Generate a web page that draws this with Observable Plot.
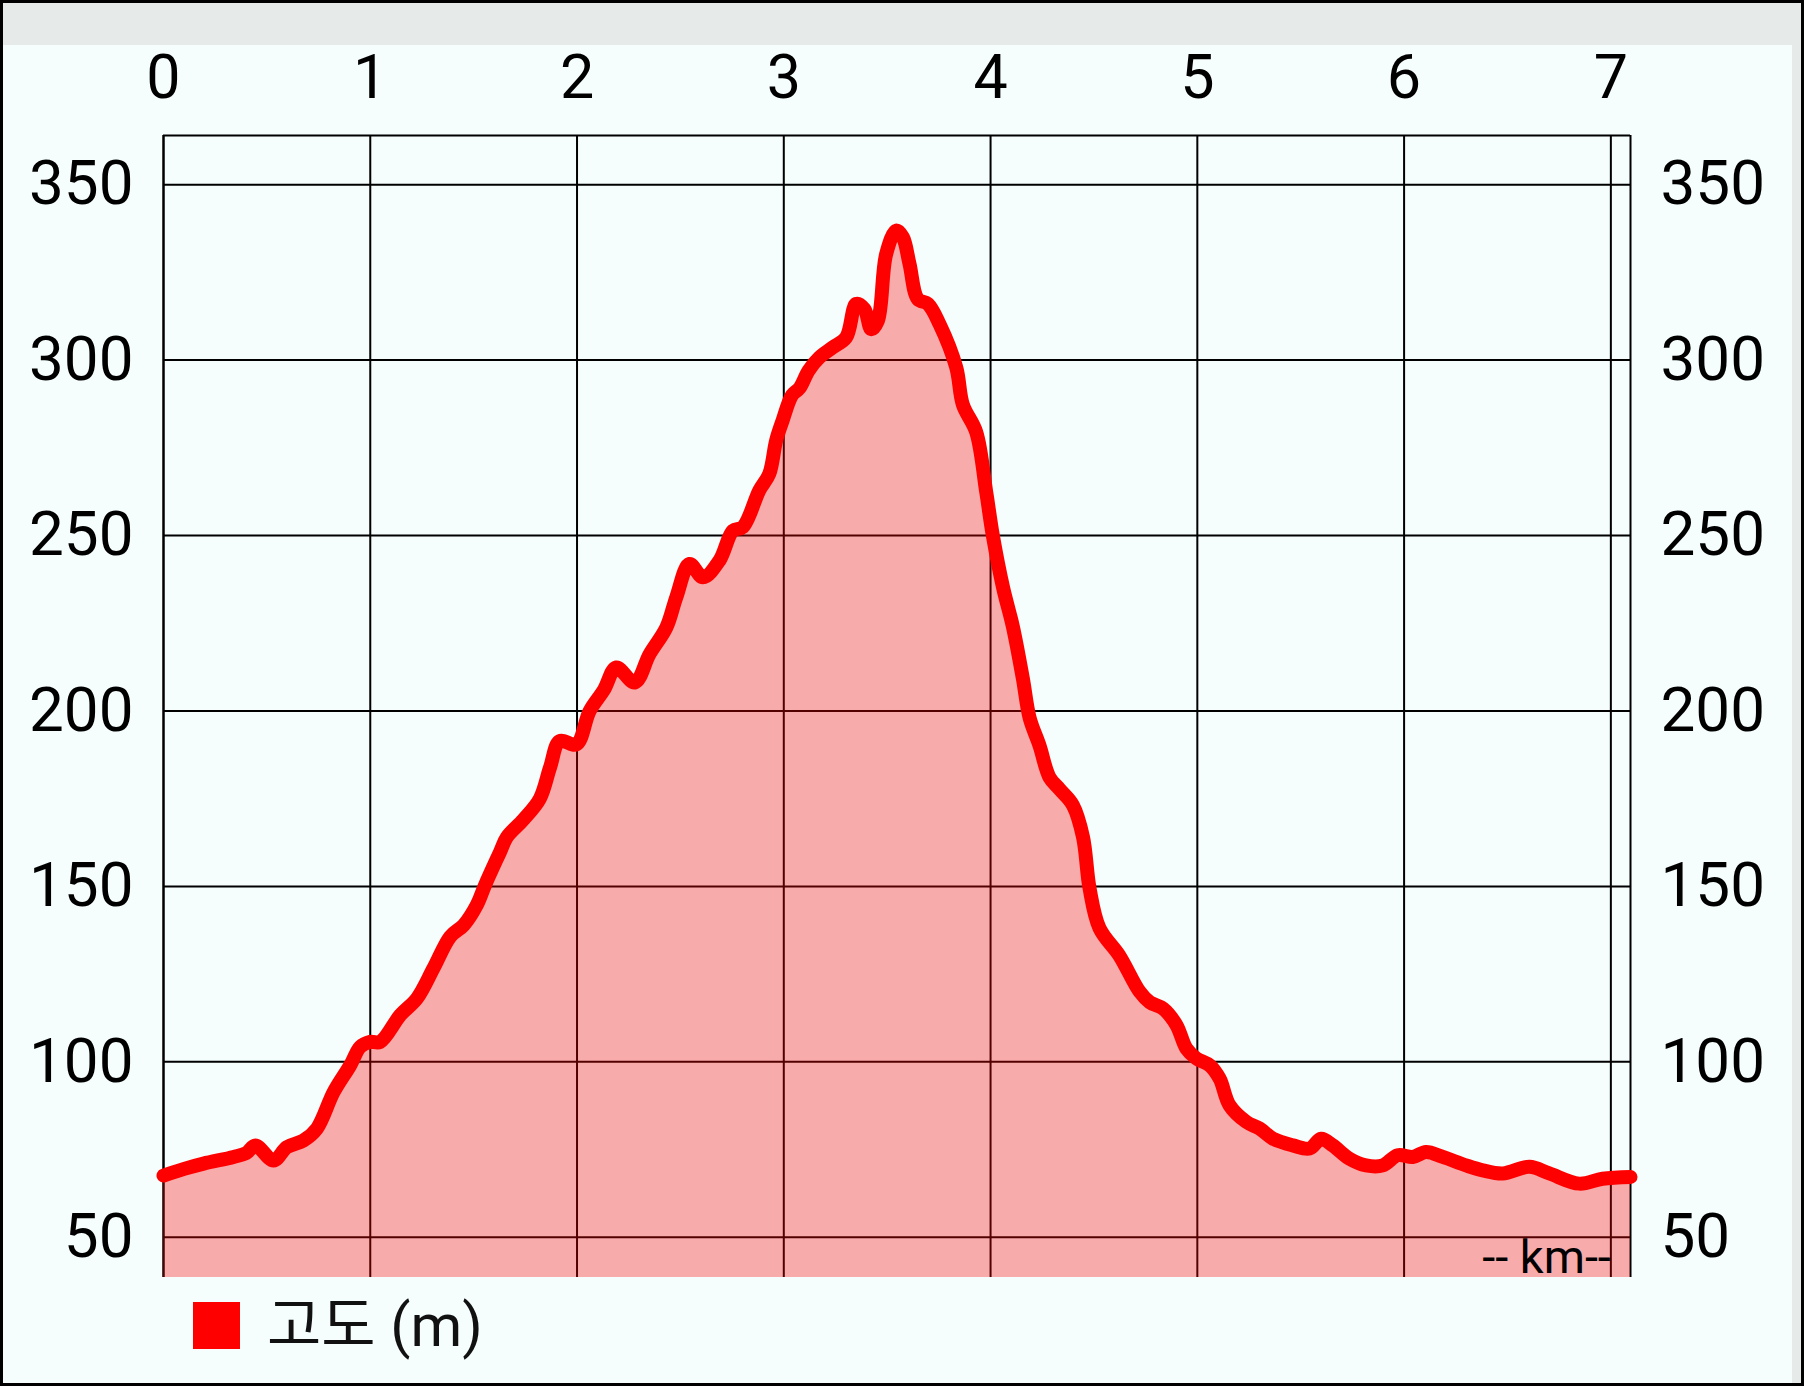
<!DOCTYPE html>
<html><head><meta charset="utf-8">
<script src="https://cdn.jsdelivr.net/npm/d3@7"></script>
<script src="https://cdn.jsdelivr.net/npm/@observablehq/plot@0.6"></script>
<style>
html,body{margin:0;padding:0;background:#f5fdfd;}
#page{position:relative;width:1804px;height:1386px;background:#f5fdfd;overflow:hidden;font-family:Roboto,"Noto Sans CJK KR",sans-serif;}
#band{position:absolute;left:0;top:0;width:1804px;height:45px;background:#e6ebea;}
#rband{position:absolute;left:1792px;top:0;width:12px;height:1386px;background:#e6ebea;}
#chart{position:absolute;left:0;top:0;}
#border{position:absolute;left:0;top:0;width:1804px;height:1386px;box-sizing:border-box;border:3px solid #000;pointer-events:none;}
#legend{position:absolute;left:193px;top:1302px;height:47px;display:flex;align-items:center;}
#legend .sw{width:47px;height:47px;background:#f00;}
#legend .lb{margin-left:27px;font-size:59px;line-height:47px;color:#111;font-family:Roboto,"Noto Sans CJK KR",sans-serif;}
</style></head>
<body>
<div id="page">
  <div id="band"></div>
  <div id="rband"></div>
  <div id="chart"></div>
  <div id="legend"><div class="sw"></div><div class="lb">고도 (m)</div></div>
  <div id="border"></div>
</div>
<script>
const km = [0, 0.1, 0.194, 0.339, 0.40, 0.444, 0.532, 0.597, 0.677, 0.742, 0.823, 0.903, 0.952, 1.0, 1.048,
  1.145, 1.226, 1.306, 1.387, 1.452, 1.516, 1.556, 1.629, 1.66, 1.74, 1.82, 1.87, 1.916, 1.997, 2.061, 2.13,
  2.19, 2.279, 2.351, 2.432, 2.48, 2.544, 2.609, 2.689, 2.754, 2.802, 2.882, 2.93, 2.963, 2.995, 3.04, 3.076,
  3.12, 3.173, 3.237, 3.302, 3.35, 3.39, 3.423, 3.455, 3.495, 3.544, 3.576, 3.608, 3.648, 3.697, 3.753, 3.834,
  3.866, 3.931, 3.979, 4.011, 4.06, 4.108, 4.156, 4.189, 4.237, 4.285, 4.334, 4.398, 4.447, 4.479, 4.527,
  4.624, 4.721, 4.77, 4.834, 4.899, 4.947, 4.995, 5.06, 5.108, 5.156, 5.237, 5.301, 5.366, 5.462, 5.543,
  5.599, 5.655, 5.736, 5.816, 5.897, 5.969, 6.042, 6.106, 6.187, 6.3, 6.38, 6.477, 6.606, 6.702, 6.847,
  6.96, 7.095];
const elevation = [67.6, 69.5, 71, 72.9, 74, 76.2, 71.9, 75.7, 77.6, 81, 91.4, 99, 104.3, 105.7, 105.7,
  113.3, 118.1, 126.7, 135.7, 139, 144.8, 150.5, 160, 164, 169, 175, 184, 191.4, 190.5, 200, 206,
  212.4, 208.1, 216.2, 223.8, 232.4, 241.9, 238.1, 242.9, 251.4, 252.4, 262.9, 267.6, 277.1, 282.9, 290, 292,
  297, 300.8, 303.6, 306.5, 316, 314.5, 308.8, 311.2, 330.2, 336.9, 335, 327.4, 317.4, 316, 310.3, 297.9,
  287.3, 279.4, 262.4, 250, 235.3, 224, 209.3, 198, 190.1, 181.1, 177.7, 173.2, 164.1, 149.4, 138.1,
  130.2, 120, 117, 115.2, 110.5, 103.8, 101, 99, 95.2, 87.6, 82.9, 81, 78.1, 76.2, 75.3,
  78.1, 76.2, 72.4, 70.5, 70.5, 73.4, 72.9, 74.3, 72.9, 70.5, 69.1, 68.2, 70.1, 68.2, 65.3,
  66.7, 67.2];
const xTicks = [0, 1, 2, 3, 4, 5, 6, 7];
const yTicks = [50, 100, 150, 200, 250, 300, 350];
const xDomain = [0, 7.095];
const yDomain = [38.55, 364.0];
const unitLabel = ["-- km--"];

const data = km.map((k, i) => ({km: k, m: elevation[i]}));
const font = "Roboto, 'Noto Sans CJK KR', sans-serif";

const chart = Plot.plot({
  width: 1804,
  height: 1290,
  marginLeft: 163,
  marginRight: 174,
  marginTop: 135,
  marginBottom: 13,
  x: {domain: xDomain},
  y: {domain: yDomain},
  style: {fontFamily: font, background: "transparent", color: "#000"},
  marks: [
    Plot.gridX(xTicks, {stroke: "#000", strokeOpacity: 1, strokeWidth: 2}),
    Plot.gridY(yTicks, {stroke: "#000", strokeOpacity: 1, strokeWidth: 2}),
    Plot.ruleX(xDomain, {stroke: "#000", strokeWidth: 2}),
    Plot.ruleY([yDomain[1]], {stroke: "#000", strokeWidth: 2}),
    Plot.areaY(data, {x: "km", y: "m", fill: "#ff0000", fillOpacity: 0.32, curve: "catmull-rom", clip: true}),
    Plot.line(data, {x: "km", y: "m", stroke: "#ff0000", strokeWidth: 14, strokeLinejoin: "round", curve: "catmull-rom"}),
    Plot.axisX(xTicks, {anchor: "top", tickSize: 0, tickPadding: 38, fontSize: 61, tickFormat: d => String(d), label: null}),
    Plot.axisY(yTicks, {anchor: "left", tickSize: 0, tickPadding: 30, fontSize: 62, tickFormat: d => String(d), label: null}),
    Plot.axisY(yTicks, {anchor: "right", tickSize: 0, tickPadding: 30, fontSize: 62, tickFormat: d => String(d), label: null}),
    Plot.text(unitLabel, {x: xTicks[7], y: yDomain[0], text: d => d, textAnchor: "end", lineAnchor: "bottom", dy: -5, fontSize: 47, fill: "#000"})
  ]
});
document.getElementById("chart").appendChild(chart);
</script>
</body></html>
